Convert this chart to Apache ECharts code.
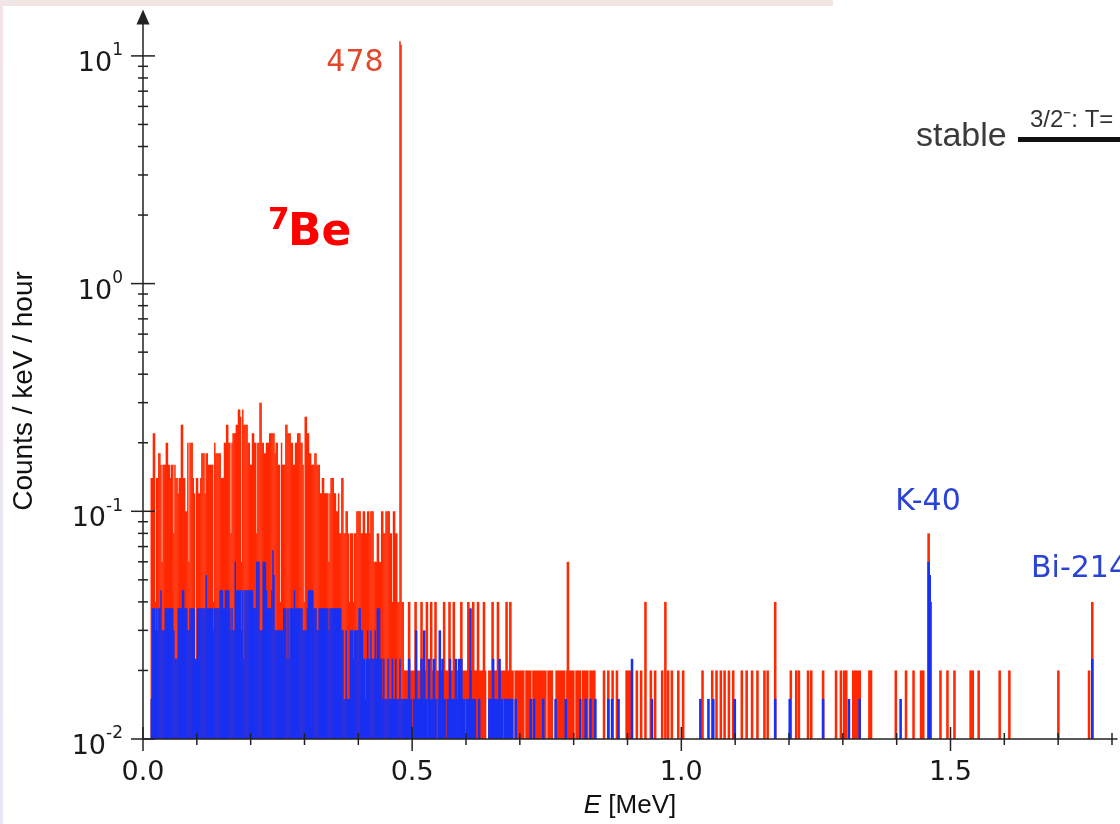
<!DOCTYPE html>
<html><head><meta charset="utf-8">
<script src="https://cdn.jsdelivr.net/npm/echarts@6/dist/echarts.min.js"></script>
<style>html,body{margin:0;padding:0;background:#fff}#chart{width:1120px;height:824px}</style>
</head><body><div id="chart"></div>
<script>
// ---------- data (Counts / keV / hour) ----------
const BIN_WIDTH = 0.002;      // MeV, histogram bin width
const DENSE_START = 0.014;    // MeV, low edge of first dense bin

// 7Be sample (red), bins of 2 keV from 0.014 MeV to 0.490 MeV
const redDense = [
  0.14,0.14,0.22,0.22,0.04,0.14,0.14,0.18,0.18,0.16,
  0.06,0.16,0.16,0.16,0.2,0.2,0.16,0.16,0.14,0.16,
  0.16,0.08,0.16,0.14,0.14,0.12,0.14,0.14,0.24,0.24,
  0.14,0.14,0.1,0.1,0.2,0.06,0.2,0.2,0.2,0.14,
  0.12,0.02,0.14,0.14,0.12,0.12,0.14,0.18,0.18,0.18,
  0.12,0.18,0.18,0.16,0.16,0.16,0.16,0.16,0.04,0.2,
  0.18,0.18,0.18,0.18,0.18,0.14,0.14,0.14,0.2,0.2,
  0.24,0.24,0.2,0.2,0.08,0.2,0.22,0.22,0.22,0.24,
  0.24,0.28,0.28,0.26,0.06,0.28,0.24,0.24,0.24,0.24,
  0.2,0.2,0.16,0.16,0.22,0.22,0.2,0.2,0.08,0.2,
  0.2,0.3,0.3,0.2,0.2,0.18,0.18,0.2,0.2,0.2,
  0.22,0.22,0.22,0.22,0.22,0.18,0.2,0.2,0.16,0.16,
  0.04,0.2,0.16,0.16,0.16,0.24,0.24,0.22,0.22,0.22,
  0.2,0.2,0.16,0.16,0.2,0.2,0.22,0.22,0.22,0.2,
  0.2,0.16,0.04,0.26,0.26,0.22,0.22,0.18,0.18,0.16,
  0.16,0.16,0.18,0.18,0.16,0.16,0.16,0.12,0.12,0.14,
  0.14,0.12,0.12,0.12,0.12,0.06,0.12,0.14,0.14,0.14,
  0.12,0.12,0.1,0.1,0.12,0.08,0.08,0.14,0.14,0.08,
  0.08,0.1,0.1,0.08,0.04,0.08,0.08,0.08,0.04,0.08,
  0.08,0.1,0.1,0.1,0.1,0.08,0.08,0.1,0.1,0.08,
  0.08,0.1,0.1,0.08,0.1,0.1,0.1,0.06,0.06,0.06,
  0.08,0.08,0.06,0.06,0.1,0.1,0.08,0.08,0.1,0.1,
  0.1,0.1,0.08,0.08,0.04,0.1,0.1,0.08,0.08,0.04,
  0.04,11.6,11.2,0.04,0.04,0.02,0.02,0.02
];
// background (blue), same bins
const blueDense = [
  0.015,0.0375,0.0375,0.0375,0.03,0.0375,0.03,0.0375,0.0375,0.045,
  0.03,0.03,0.03,0.0375,0.0375,0.0375,0.0375,0.0375,0.0375,0.0375,
  0.0375,0.03,0.0225,0.0225,0.0225,0.0375,0.0375,0.0375,0.0375,0.045,
  0.045,0.0375,0.0375,0.0375,0.03,0.03,0.0375,0.0375,0.0375,0.0375,
  0.0375,0.0225,0.0225,0.0375,0.0375,0.0375,0.0375,0.0375,0.0375,0.0375,
  0.0375,0.0525,0.0375,0.0375,0.0375,0.0375,0.0375,0.0375,0.03,0.0375,
  0.0375,0.0375,0.0375,0.0375,0.045,0.045,0.045,0.0375,0.0375,0.045,
  0.045,0.045,0.045,0.0375,0.03,0.0375,0.03,0.03,0.06,0.045,
  0.045,0.045,0.045,0.045,0.03,0.045,0.0225,0.045,0.045,0.045,
  0.045,0.045,0.045,0.045,0.045,0.0375,0.0375,0.0375,0.06,0.06,
  0.06,0.03,0.03,0.03,0.06,0.06,0.06,0.045,0.0375,0.0375,
  0.0375,0.0375,0.045,0.0675,0.0525,0.03,0.03,0.03,0.03,0.03,
  0.03,0.03,0.03,0.0375,0.0375,0.0375,0.0225,0.0375,0.0225,0.0375,
  0.0375,0.0375,0.0375,0.045,0.0375,0.0375,0.0375,0.0375,0.0375,0.0375,
  0.0375,0.03,0.03,0.03,0.03,0.0375,0.045,0.045,0.045,0.045,
  0.045,0.0375,0.0375,0.0375,0.03,0.03,0.0375,0.0375,0.0375,0.0375,
  0.0375,0.0375,0.0375,0.0375,0.0375,0.03,0.0375,0.0375,0.0375,0.0375,
  0.0375,0.0375,0.0375,0.0375,0.0375,0.0375,0.0375,0.03,0.03,0.015,
  0.015,0.03,0.015,0.015,0.015,0.03,0.03,0.03,0.0225,0.03,
  0.03,0.03,0.03,0.0375,0.0375,0.03,0.03,0.0225,0.0225,0.015,
  0.0225,0.03,0.0225,0.0225,0.03,0.0225,0.0225,0.0225,0.03,0.0225,
  0.0375,0.0375,0.0375,0.0225,0.0225,0.015,0.0225,0.015,0.015,0.015,
  0.0225,0.015,0.015,0.015,0.0225,0.015,0.015,0.0225,0.015,0.015,
  0.015,0.0225,0.015,0.015,0.015,0.015,0.015,0.015
];
// runs of adjacent filled bins above 0.49 MeV: [E low, E high, value]
const redRuns = [
  [0.490,0.637,0.02],[0.641,0.660,0.02],[0.662,0.688,0.02],[0.690,0.708,0.02],
  [0.710,0.721,0.02],[0.723,0.749,0.02],[0.751,0.761,0.02],[0.766,0.784,0.02],
  [0.786,0.801,0.02],[0.803,0.813,0.02],[0.815,0.827,0.02],[0.829,0.840,0.02],
  [0.896,0.909,0.02],[1.317,1.333,0.02]
];
// isolated lines above 0.49 MeV: [E, value]
const redLines = [
  [0.494,0.04],[0.506,0.04],[0.517,0.04],[0.527,0.04],[0.535,0.04],[0.543,0.04],
  [0.559,0.04],[0.569,0.04],[0.577,0.04],[0.591,0.04],[0.604,0.04],[0.613,0.04],
  [0.622,0.04],[0.633,0.04],[0.649,0.04],[0.659,0.04],[0.675,0.04],[0.682,0.04],
  [0.789,0.06],[0.856,0.02],[0.864,0.02],[0.872,0.02],[0.880,0.02],[0.917,0.02],
  [0.925,0.02],[0.933,0.04],[0.943,0.02],[0.951,0.02],[0.964,0.02],[0.970,0.04],
  [0.975,0.02],[0.982,0.02],[0.994,0.02],[1.003,0.02],[1.039,0.02],[1.057,0.02],
  [1.065,0.02],[1.073,0.02],[1.080,0.02],[1.088,0.02],[1.096,0.02],[1.112,0.02],
  [1.121,0.02],[1.131,0.02],[1.141,0.02],[1.154,0.02],[1.160,0.02],[1.174,0.04],
  [1.203,0.02],[1.213,0.02],[1.218,0.02],[1.235,0.02],[1.241,0.02],[1.263,0.02],
  [1.287,0.02],[1.296,0.02],[1.302,0.02],[1.306,0.02],[1.349,0.02],[1.352,0.02],
  [1.398,0.02],[1.417,0.02],[1.431,0.02],[1.445,0.02],[1.449,0.02],[1.459,0.08],
  [1.463,0.04],[1.481,0.02],[1.494,0.02],[1.507,0.02],[1.537,0.02],[1.541,0.02],
  [1.552,0.02],[1.591,0.02],[1.609,0.02],[1.700,0.02],[1.757,0.02],[1.763,0.04]
];
const blueRuns = [
  [0.490,0.499,0.015],[0.501,0.528,0.015],[0.530,0.545,0.015],[0.547,0.562,0.015],
  [0.564,0.584,0.015],[0.586,0.598,0.015],[0.600,0.618,0.015],[0.641,0.650,0.015],
  [0.652,0.668,0.015],[0.670,0.687,0.015]
];
const blueLines = [
  [0.494,0.0225],[0.507,0.03],[0.517,0.0225],[0.522,0.03],[0.531,0.0225],[0.540,0.0225],
  [0.551,0.03],[0.556,0.0225],[0.570,0.0225],[0.581,0.0225],[0.587,0.0225],[0.591,0.0225],
  [0.608,0.0375],[0.624,0.015],[0.650,0.0225],[0.662,0.0225],[0.692,0.015],[0.720,0.015],
  [0.726,0.015],[0.743,0.015],[0.766,0.015],[0.785,0.015],[0.812,0.015],[0.822,0.015],
  [0.831,0.015],[0.840,0.015],[0.864,0.015],[0.871,0.015],[0.883,0.015],[0.908,0.0225],
  [0.945,0.015],[1.035,0.015],[1.050,0.015],[1.059,0.015],[1.099,0.015],[1.174,0.015],
  [1.201,0.015],[1.263,0.015],[1.311,0.015],[1.331,0.015],[1.407,0.015],[1.459,0.06],
  [1.461,0.0525],[1.763,0.0225]
];

const xTickLabels = ['0.0', '0.5', '1.0', '1.5'];
const yTickExponents = ['-2', '-1', '0', '1'];   // labels 10^-2 ... 10^1
const peakLabel = '478';
const isotopeMass = '7';
const isotopeName = 'Be';
const lineLabels = ['K-40', 'Bi-214'];

// ---------- layout constants ----------
const Y_MIN = 0.01;
const Y_MAX = 14.82;
const X_MAX = 1.8093;
const RED = '#ff2800';
const BLUE = '#1830f2';
const AXIS = '#222222';

function buildBins(dense, runs, lines) {
  const out = [];
  dense.forEach(function (v, i) {
    const lo = DENSE_START + i * BIN_WIDTH;
    out.push([lo, lo + BIN_WIDTH, v]);
  });
  runs.forEach(function (r) { out.push([r[0], r[1], r[2]]); });
  lines.forEach(function (l) { out.push([l[0] - BIN_WIDTH, l[0] + BIN_WIDTH, l[1]]); });
  return out;
}

function barRenderer(color) {
  return function (params, api) {
    const lo = api.value(0), hi = api.value(1), v = api.value(2);
    const p0 = api.coord([lo, v]);
    const p1 = api.coord([hi, Y_MIN]);
    return {
      type: 'rect',
      shape: { x: p0[0], y: p0[1], width: p1[0] - p0[0] + 0.4, height: p1[1] - p0[1] },
      style: { fill: color }
    };
  };
}

const xTickData = [];
for (let k = 0; k <= 18; k++) xTickData.push([k / 10, Y_MIN, k % 5 === 0 ? 12 : 6]);
const yTickData = [];
for (let d = -2; d <= 1; d++) {
  yTickData.push([0, Math.pow(10, d), 12]);
  if (d < 1) for (let m = 2; m <= 9; m++) yTickData.push([0, m * Math.pow(10, d), 5]);
}

const chart = echarts.init(document.getElementById('chart'), null, { renderer: 'canvas' });
const tickFont = 'DejaVu Sans';
chart.setOption({
  animation: false,
  backgroundColor: '#ffffff',
  grid: { left: 143, top: 17, right: 0, height: 722, containLabel: false },
  xAxis: {
    type: 'value', min: 0, max: X_MAX, interval: 0.5, z: 10,
    axisLine: { show: true, onZero: false, lineStyle: { color: AXIS, width: 1.5 } },
    axisTick: { show: false }, splitLine: { show: false },
    axisLabel: {
      margin: 20, fontSize: 27, fontFamily: tickFont, color: '#1a1a1a',
      formatter: function (v) {
        const k = Math.round(v / 0.5);
        if (Math.abs(v - k * 0.5) > 1e-9 || k >= xTickLabels.length) return '';
        return xTickLabels[k];
      }
    },
    name: '{i|E} [MeV]', nameLocation: 'middle', nameGap: 54,
    nameTextStyle: {
      fontFamily: 'Liberation Sans', fontSize: 26, color: '#111',
      rich: { i: { fontFamily: 'Liberation Sans', fontSize: 26, fontStyle: 'italic', color: '#111' } }
    }
  },
  yAxis: {
    type: 'log', logBase: 10, min: Y_MIN, max: Y_MAX, interval: 1, z: 10,
    axisLine: { show: true, symbol: ['none', 'triangle'], symbolSize: [13, 15], lineStyle: { color: AXIS, width: 1.5 } },
    axisTick: { show: false }, splitLine: { show: false }, minorTick: { show: false },
    axisLabel: {
      margin: 20,
      formatter: function (v) {
        const e = Math.log10(v), k = Math.round(e);
        if (Math.abs(e - k) > 1e-6) return '';
        const idx = k + 2;
        if (idx < 0 || idx >= yTickExponents.length) return '';
        return '{b|10}{s|' + yTickExponents[idx] + '}';
      },
      rich: {
        b: { fontFamily: tickFont, fontSize: 27, color: '#1a1a1a', lineHeight: 27, verticalAlign: 'top', padding: [8, 0, 0, 0] },
        s: { fontFamily: tickFont, fontSize: 17, color: '#1a1a1a', lineHeight: 17, verticalAlign: 'top' }
      }
    },
    name: 'Counts / keV / hour', nameLocation: 'middle', nameGap: 105, nameRotate: 90,
    nameTextStyle: { fontFamily: 'Liberation Sans', fontSize: 28, color: '#111', padding: [0, 26, 0, 0] }
  },
  series: [
    { name: '7Be', type: 'custom', renderItem: barRenderer(RED), encode: { x: [0, 1], y: 2 },
      data: buildBins(redDense, redRuns, redLines), silent: true, z: 2 },
    { name: 'background', type: 'custom', renderItem: barRenderer(BLUE), encode: { x: [0, 1], y: 2 },
      data: buildBins(blueDense, blueRuns, blueLines), silent: true, z: 3 },
    { name: 'xticks', type: 'custom', silent: true, z: 11,
      renderItem: function (p, api) {
        const c = api.coord([api.value(0), api.value(1)]), len = api.value(2);
        return { type: 'line', shape: { x1: c[0], y1: c[1] - len, x2: c[0], y2: c[1] + len },
                 style: { stroke: AXIS, lineWidth: 1.5 } };
      }, data: xTickData },
    { name: 'yticks', type: 'custom', silent: true, z: 11,
      renderItem: function (p, api) {
        const c = api.coord([api.value(0), api.value(1)]), len = api.value(2);
        return { type: 'line', shape: { x1: c[0] - len, y1: c[1], x2: c[0] + len, y2: c[1] },
                 style: { stroke: AXIS, lineWidth: 1.5 } };
      }, data: yTickData }
  ],
  graphic: [
    { type: 'rect', z: -1, shape: { x: 0, y: 0, width: 833, height: 6 }, style: { fill: '#f2e6e4' } },
    { type: 'rect', z: -1, shape: { x: 0, y: 0, width: 3, height: 824 },
      style: { fill: new echarts.graphic.LinearGradient(0, 0, 0, 1, [{ offset: 0, color: '#f3e4e6' }, { offset: 1, color: '#e6e6f6' }]) } },
    { type: 'text', x: 355, y: 63, style: { text: peakLabel, fill: '#e2482c', font: '30px "DejaVu Sans"', align: 'center', verticalAlign: 'middle' } },
    { type: 'text', x: 268, y: 221, style: { text: isotopeMass, fill: '#ff0000', font: 'bold 31px "DejaVu Sans"', align: 'left', verticalAlign: 'middle' } },
    { type: 'text', x: 288, y: 234, style: { text: isotopeName, fill: '#ff0000', font: 'bold 44px "DejaVu Sans"', align: 'left', verticalAlign: 'middle' } },
    { type: 'text', x: 928, y: 502, style: { text: lineLabels[0], fill: '#2a42d6', font: '30px "DejaVu Sans"', align: 'center', verticalAlign: 'middle' } },
    { type: 'text', x: 1031, y: 569, style: { text: lineLabels[1], fill: '#2a42d6', font: '30px "DejaVu Sans"', align: 'left', verticalAlign: 'middle' } },
    { type: 'text', x: 916, y: 137, style: { text: 'stable', fill: '#3a3a3a', font: '34px "Liberation Sans"', align: 'left', verticalAlign: 'middle' } },
    { type: 'rect', shape: { x: 1018, y: 137, width: 110, height: 5 }, style: { fill: '#111' } },
    { type: 'text', x: 1030, y: 120, style: { text: '3/2\u207B: T=', fill: '#333', font: '24px "Liberation Sans"', align: 'left', verticalAlign: 'middle' } }
  ]
});
</script></body></html>
